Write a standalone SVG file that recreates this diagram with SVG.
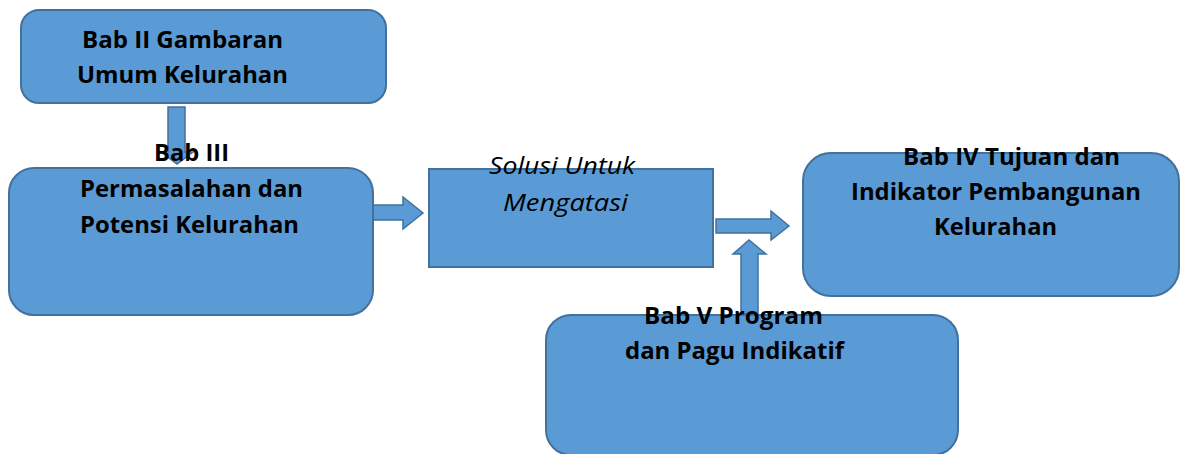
<svg xmlns="http://www.w3.org/2000/svg" width="1181" height="454" viewBox="0 0 1181 454">
<style>
.box{fill:#5B9BD5;stroke:#41719C;stroke-width:2}
.arr{fill:#5B9BD5;stroke:#41719C;stroke-width:1.5;stroke-linejoin:miter}
.t{font-family:"Open Sans","Noto Sans",sans-serif;font-weight:bold;font-size:23.5px;fill:#000}
.ti{font-family:"Open Sans","Noto Sans",sans-serif;font-style:italic;font-size:23px;fill:#000}
</style>
<rect width="1181" height="454" fill="#fff"/>
<g id="connectors">
<polygon class="arr" points="168,107 185,107 185,152 193,152 177,164 161,152 168,152"/>
<polygon class="arr" points="373,205 403,205 403,197 423,213 403,229 403,220 373,220"/>
<polygon class="arr" points="716,219 771,219 771,211 789,226 771,240 771,233 716,233"/>
<polygon class="arr" points="741,314 741,254 733,254 749,240 766,254 758,254 758,314"/>
</g>
<g id="bab2">
<rect class="box" x="21" y="10" width="365" height="93" rx="18"/>
<text class="t" x="82" y="48" textLength="201" lengthAdjust="spacingAndGlyphs">Bab II Gambaran</text>
<text class="t" x="77" y="83" textLength="211" lengthAdjust="spacingAndGlyphs">Umum Kelurahan</text>
</g>
<g id="bab3">
<rect class="box" x="9" y="168" width="364" height="147" rx="25"/>
<text class="t" x="154" y="161" textLength="75" lengthAdjust="spacingAndGlyphs">Bab III</text>
<text class="t" x="80" y="197" textLength="223" lengthAdjust="spacingAndGlyphs">Permasalahan dan</text>
<text class="t" x="80" y="233" textLength="219" lengthAdjust="spacingAndGlyphs">Potensi Kelurahan</text>
</g>
<g id="solusi">
<rect class="box" x="429" y="169" width="284" height="98"/>
<text class="ti" x="489" y="174" textLength="146" lengthAdjust="spacingAndGlyphs">Solusi Untuk</text>
<text class="ti" x="503" y="211" textLength="125" lengthAdjust="spacingAndGlyphs">Mengatasi</text>
</g>
<g id="bab4">
<rect class="box" x="803" y="153" width="376" height="143" rx="28"/>
<text class="t" x="903" y="165" textLength="217" lengthAdjust="spacingAndGlyphs">Bab IV Tujuan dan</text>
<text class="t" x="851" y="200" textLength="290" lengthAdjust="spacingAndGlyphs">Indikator Pembangunan</text>
<text class="t" x="934" y="235" textLength="123" lengthAdjust="spacingAndGlyphs">Kelurahan</text>
</g>
<g id="bab5">
<rect class="box" x="546" y="315" width="412" height="140" rx="25"/>
<text class="t" x="644" y="324" textLength="179" lengthAdjust="spacingAndGlyphs">Bab V Program</text>
<text class="t" x="625" y="359" textLength="219" lengthAdjust="spacingAndGlyphs">dan Pagu Indikatif</text>
</g>
</svg>
